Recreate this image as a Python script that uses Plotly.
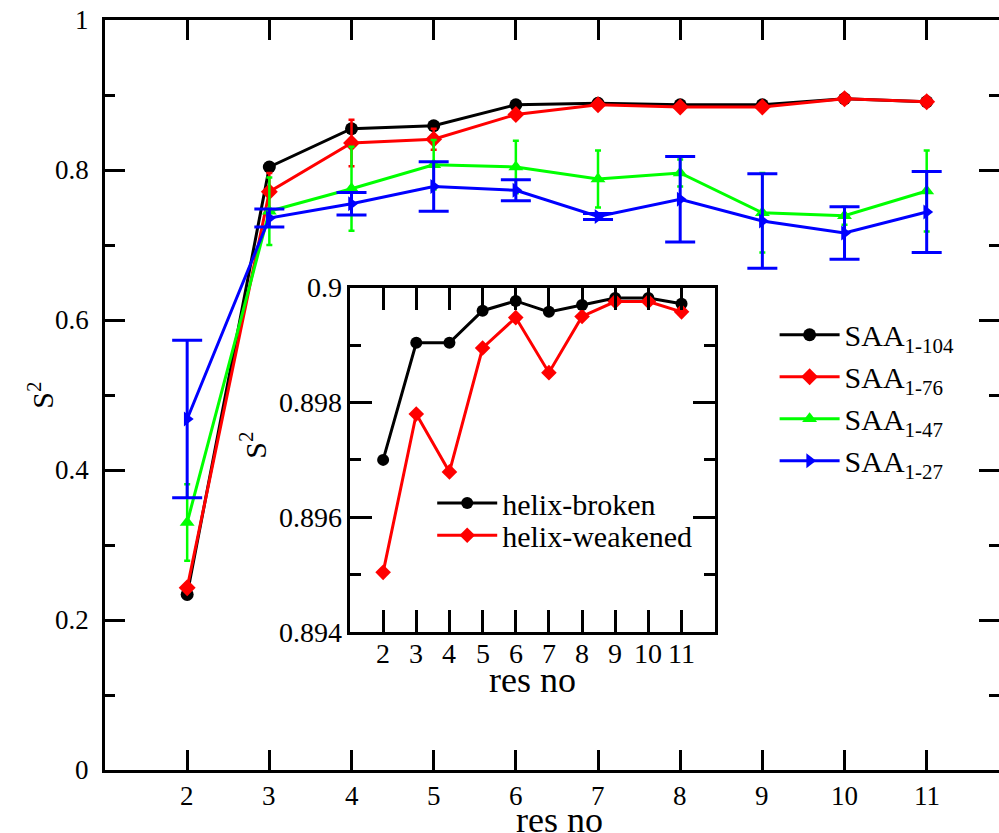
import plotly.graph_objects as go

res = [2, 3, 4, 5, 6, 7, 8, 9, 10, 11]

saa104 = [0.234, 0.804, 0.855, 0.859, 0.887, 0.889, 0.887, 0.887, 0.895, 0.891]
saa76 = [0.243, 0.771, 0.836, 0.841, 0.874, 0.887, 0.884, 0.884, 0.895, 0.891]
saa76_err = [0.005, 0.025, 0.031, 0.014, 0.005, 0.003, 0.003, 0.003, 0.003, 0.003]
saa47 = [0.330, 0.745, 0.775, 0.807, 0.804, 0.788, 0.796, 0.743, 0.739, 0.772]
saa47_err = [0.051, 0.045, 0.056, 0.033, 0.035, 0.038, 0.018, 0.053, 0.012, 0.054]
saa27 = [0.468, 0.736, 0.755, 0.778, 0.773, 0.738, 0.761, 0.732, 0.716, 0.744]
saa27_err = [0.105, 0.012, 0.015, 0.033, 0.014, 0.004, 0.057, 0.063, 0.035, 0.054]

broken = [0.8970, 0.89904, 0.89904, 0.8996, 0.89977, 0.89958, 0.8997, 0.89982, 0.89982, 0.89972]
weakened = [0.89504, 0.89780, 0.89679, 0.89895, 0.89948, 0.89852, 0.8995, 0.89976, 0.89976, 0.89958]

main_yticks = [0, 0.2, 0.4, 0.6, 0.8, 1.0]
main_yticktext = ["0", "0.2", "0.4", "0.6", "0.8", "1"]
main_yminor = [0.1, 0.3, 0.5, 0.7, 0.9]
inset_yticks = [0.894, 0.896, 0.898, 0.9]
inset_yticktext = ["0.894", "0.896", "0.898", "0.9"]
inset_yminor = [0.895, 0.897, 0.899]

FONT = "'Liberation Serif', 'Times New Roman', Times, 'DejaVu Serif', serif"

fig = go.Figure()

fig.add_trace(go.Scatter(x=res, y=saa104, mode="lines+markers", name="SAA<sub>1-104</sub>",
                         line=dict(color="black", width=3),
                         marker=dict(symbol="circle", size=13, color="black"),
                         legend="legend"))
fig.add_trace(go.Scatter(x=res, y=saa76, mode="lines+markers", name="SAA<sub>1-76</sub>",
                         line=dict(color="red", width=3),
                         marker=dict(symbol="diamond", size=13, color="red"),
                         error_y=dict(type="data", array=saa76_err, color="red", thickness=2.5, width=3),
                         legend="legend"))
fig.add_trace(go.Scatter(x=res, y=saa47, mode="lines+markers", name="SAA<sub>1-47</sub>",
                         line=dict(color="#00ff00", width=3),
                         marker=dict(symbol="triangle-up", size=13, color="#00ff00"),
                         error_y=dict(type="data", array=saa47_err, color="#00ff00", thickness=2.5, width=3),
                         legend="legend"))
fig.add_trace(go.Scatter(x=res, y=saa27, mode="lines+markers", name="SAA<sub>1-27</sub>",
                         line=dict(color="blue", width=3),
                         marker=dict(symbol="triangle-right", size=13, color="blue"),
                         error_y=dict(type="data", array=saa27_err, color="blue", thickness=3, width=15),
                         legend="legend"))

# helper for right-side ticks of the main plot (no spine there in the reference)
fig.add_trace(go.Scatter(x=[], y=[], yaxis="y3", showlegend=False, hoverinfo="skip"))

fig.add_trace(go.Scatter(x=res, y=broken, mode="lines+markers", name="helix-broken",
                         xaxis="x2", yaxis="y2",
                         line=dict(color="black", width=3),
                         marker=dict(symbol="circle", size=12, color="black"),
                         legend="legend2"))
fig.add_trace(go.Scatter(x=res, y=weakened, mode="lines+markers", name="helix-weakened",
                         xaxis="x2", yaxis="y2",
                         line=dict(color="red", width=3),
                         marker=dict(symbol="diamond", size=12, color="red"),
                         legend="legend3"))

axis_common = dict(showgrid=False, zeroline=False, showline=True, linecolor="black", linewidth=3,
                   ticks="inside", tickcolor="black", tickwidth=3, showticklabels=False,
                   automargin=False)

# tick labels and titles as annotations (serif font guaranteed)
annotations = []
for v in res:
    annotations.append(dict(text=str(v), xref="x", yref="paper", x=v, y=-0.034, xanchor="center",
                            yanchor="middle", showarrow=False,
                            font=dict(family=FONT, size=27, color="black")))
    annotations.append(dict(text=str(v), xref="x2", yref="paper", x=v, y=0.155, xanchor="center",
                            yanchor="middle", showarrow=False,
                            font=dict(family=FONT, size=28, color="black")))
for v, t in zip(main_yticks, main_yticktext):
    annotations.append(dict(text=t, xref="paper", yref="y", x=-0.016, y=v, xanchor="right",
                            yanchor="middle", showarrow=False,
                            font=dict(family=FONT, size=27, color="black")))
for v, t in zip(inset_yticks, inset_yticktext):
    annotations.append(dict(text=t, xref="paper", yref="y2", x=0.267, y=v, xanchor="right",
                            yanchor="middle", showarrow=False,
                            font=dict(family=FONT, size=28, color="black")))
annotations += [
    dict(text="res no", xref="paper", yref="paper", x=0.508, y=-0.067, xanchor="center",
         yanchor="middle", showarrow=False, font=dict(family=FONT, size=36, color="black")),
    dict(text="res no", xref="x2", yref="paper", x=6.5, y=0.12, xanchor="center",
         yanchor="middle", showarrow=False, font=dict(family=FONT, size=36, color="black")),
    dict(text="S<sup>2</sup>", xref="paper", yref="paper", x=-0.072, y=0.5, xanchor="center",
         yanchor="middle", textangle=-90, showarrow=False, font=dict(family=FONT, size=30, color="black")),
    dict(text="S<sup>2</sup>", xref="paper", yref="paper", x=0.166, y=0.433, xanchor="center",
         yanchor="middle", textangle=-90, showarrow=False, font=dict(family=FONT, size=30, color="black")),
]

fig.update_layout(
    width=999, height=833,
    margin=dict(l=105, r=0, t=20, b=63),
    paper_bgcolor="white", plot_bgcolor="white",
    font=dict(family=FONT, color="black"),
    xaxis=dict(**axis_common, domain=[0, 1], range=[1, 11.88], tickvals=res, ticklen=20,
               mirror="ticks", anchor="y"),
    yaxis=dict(**axis_common, domain=[0, 1], range=[0, 1], tickvals=main_yticks,
               ticklen=20, mirror=False, anchor="x",
               minor=dict(ticks="inside", ticklen=10, tickwidth=3, tickcolor="black",
                          tickvals=main_yminor)),
    yaxis3=dict(overlaying="y", side="right", anchor="x", range=[0, 1], tickvals=main_yticks,
                ticks="inside", ticklen=20, tickwidth=3, tickcolor="black", showticklabels=False,
                showline=False, showgrid=False, zeroline=False,
                minor=dict(ticks="inside", ticklen=10, tickwidth=3, tickcolor="black",
                           tickvals=main_yminor)),
    xaxis2=dict(**axis_common, domain=[0.274, 0.682], range=[1, 12], tickvals=res, ticklen=22,
                mirror="ticks", anchor="y2"),
    yaxis2=dict(**axis_common, domain=[0.184, 0.643], range=[0.894, 0.9], tickvals=inset_yticks,
                ticklen=22, mirror="ticks", anchor="x2",
                minor=dict(ticks="inside", ticklen=11, tickwidth=3, tickcolor="black",
                           tickvals=inset_yminor)),
    legend=dict(x=0.749, y=0.615, xanchor="left", yanchor="top", bgcolor="rgba(0,0,0,0)",
                font=dict(family=FONT, size=30, color="black"), itemwidth=60, tracegroupgap=0),
    legend2=dict(x=0.366, y=0.356, xanchor="left", yanchor="middle", bgcolor="rgba(0,0,0,0)",
                 font=dict(family=FONT, size=30, color="black"), itemwidth=60),
    legend3=dict(x=0.366, y=0.313, xanchor="left", yanchor="middle", bgcolor="rgba(0,0,0,0)",
                 font=dict(family=FONT, size=30, color="black"), itemwidth=60),
    annotations=annotations,
)

fig.write_html("out.html")
